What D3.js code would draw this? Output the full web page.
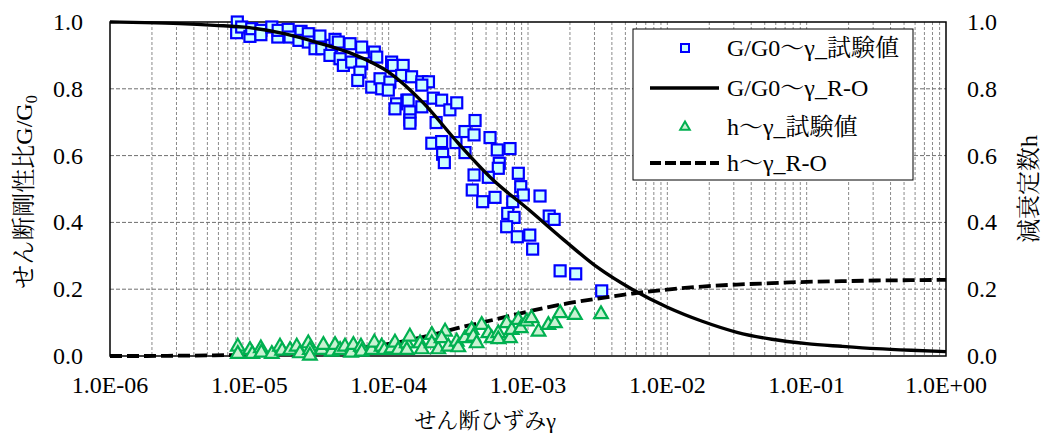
<!DOCTYPE html>
<html><head><meta charset="utf-8">
<script src="https://cdn.jsdelivr.net/npm/d3@7"></script>
<style>
html,body{margin:0;padding:0;background:#fff;}
svg{display:block;}
</style></head><body>
<svg id="c" width="1045" height="436"></svg>
<script>
// ---- data ----
const xTickValues = [1e-6,1e-5,1e-4,1e-3,1e-2,1e-1,1];
const xTickLabels = ["1.0E-06","1.0E-05","1.0E-04","1.0E-03","1.0E-02","1.0E-01","1.0E+00"];
const yTickValues = [0,0.2,0.4,0.6,0.8,1.0];
const yTickLabels = ["0.0","0.2","0.4","0.6","0.8","1.0"];
const seriesNames = ["G/G0～γ_試験値","G/G0～γ_R-O","h～γ_試験値","h～γ_R-O"];

// G/G0 test values
const gGamma = [8.20e-6,8.11e-6,8.81e-6,1.01e-5,1.04e-5,1.21e-5,1.21e-5,1.45e-5,1.60e-5,1.61e-5,1.90e-5,1.96e-5,2.35e-5,2.27e-5,2.65e-5,2.65e-5,2.96e-5,3.21e-5,3.31e-5,3.90e-5,3.79e-5,4.12e-5,4.35e-5,4.48e-5,4.73e-5,5.28e-5,5.43e-5,6.40e-5,6.40e-5,6.22e-5,6.00e-5,7.89e-5,8.21e-5,7.56e-5,8.67e-5,8.91e-5,1.02e-4,1.05e-4,1.08e-4,1.27e-4,1.24e-4,1.14e-4,1.11e-4,1.35e-4,1.42e-4,1.42e-4,9.94e-5,1.46e-4,1.73e-4,1.93e-4,1.73e-4,1.38e-4,1.42e-4,1.73e-4,2.09e-4,2.40e-4,2.75e-4,3.08e-4,2.19e-4,3.53e-4,4.17e-4,4.10e-4,5.34e-4,2.04e-4,2.40e-4,3.04e-4,2.44e-4,2.51e-4,3.53e-4,6.02e-4,7.43e-4,6.22e-4,6.12e-4,4.10e-4,5.19e-4,8.52e-4,8.87e-4,9.25e-4,1.22e-3,3.98e-4,4.73e-4,5.80e-4,7.77e-4,7.15e-4,7.94e-4,7.03e-4,8.38e-4,1.03e-3,1.08e-3,1.42e-3,1.54e-3,1.70e-3,2.20e-3,3.38e-3];
const gRatio = [1.000,0.968,0.985,0.957,0.980,0.975,0.962,0.985,0.955,0.975,0.978,0.955,0.972,0.945,0.965,0.940,0.920,0.958,0.920,0.930,0.900,0.948,0.940,0.890,0.870,0.935,0.880,0.925,0.875,0.850,0.825,0.910,0.895,0.805,0.830,0.800,0.820,0.880,0.870,0.870,0.840,0.755,0.740,0.766,0.731,0.707,0.796,0.836,0.821,0.821,0.811,0.766,0.697,0.746,0.772,0.766,0.737,0.758,0.699,0.672,0.705,0.662,0.654,0.637,0.642,0.639,0.604,0.579,0.609,0.617,0.621,0.577,0.562,0.542,0.535,0.547,0.507,0.482,0.479,0.497,0.462,0.475,0.462,0.427,0.415,0.387,0.357,0.362,0.320,0.419,0.409,0.255,0.246,0.195];

// G/G0 and h R-O model curves
const roGamma = [1e-6,1.78e-6,3.16e-6,5.62e-6,1e-5,1.78e-5,3.16e-5,5.62e-5,1e-4,1.78e-4,3.16e-4,5.62e-4,1e-3,1.78e-3,3.16e-3,5.62e-3,1e-2,1.78e-2,3.16e-2,5.62e-2,1e-1,1.78e-1,3.16e-1,5.62e-1,1];
const roG = [1.000,0.998,0.995,0.990,0.983,0.965,0.937,0.903,0.850,0.757,0.637,0.527,0.440,0.350,0.265,0.199,0.146,0.104,0.071,0.050,0.037,0.029,0.022,0.017,0.013];
const roH = [0.000,0.000,0.001,0.002,0.004,0.008,0.014,0.022,0.036,0.057,0.084,0.108,0.133,0.155,0.172,0.187,0.199,0.208,0.214,0.218,0.222,0.224,0.226,0.227,0.228];

// h test values
const hGamma = [8.26e-6,8.26e-6,1.01e-5,1.05e-5,1.21e-5,1.22e-5,1.45e-5,1.66e-5,1.72e-5,1.96e-5,2.19e-5,2.31e-5,2.65e-5,2.72e-5,2.72e-5,3.31e-5,3.40e-5,3.90e-5,4.12e-5,4.48e-5,4.86e-5,5.37e-5,5.58e-5,6.33e-5,6.40e-5,7.56e-5,7.89e-5,8.91e-5,9.31e-5,1.05e-4,1.11e-4,1.17e-4,1.35e-4,1.42e-4,1.35e-4,1.68e-4,1.73e-4,2.04e-4,2.04e-4,2.27e-4,2.54e-4,2.40e-4,2.68e-4,3.08e-4,3.16e-4,3.53e-4,3.94e-4,4.05e-4,4.28e-4,4.65e-4,5.19e-4,5.49e-4,6.12e-4,6.12e-4,7.03e-4,7.43e-4,7.64e-4,8.52e-4,8.87e-4,9.79e-4,1.06e-3,1.19e-3,1.40e-3,1.56e-3,1.70e-3,2.17e-3,3.34e-3];
const hVal = [0.028,0.006,0.018,0.006,0.023,0.010,0.006,0.028,0.016,0.018,0.028,0.008,0.038,0.018,0.001,0.018,0.033,0.013,0.033,0.018,0.028,0.010,0.033,0.028,0.013,0.018,0.040,0.028,0.018,0.023,0.040,0.018,0.038,0.058,0.018,0.038,0.020,0.063,0.038,0.020,0.073,0.053,0.028,0.043,0.026,0.053,0.078,0.058,0.038,0.093,0.068,0.053,0.068,0.050,0.098,0.053,0.078,0.108,0.083,0.103,0.113,0.073,0.093,0.098,0.128,0.123,0.125];

// ---- chart ----
const FONT = "'Liberation Serif', 'Noto Serif CJK JP', serif";
const svg = d3.select("#c");
const L=110, R=946, T=22, B=356;
const x = d3.scaleLog().domain([1e-6,1]).range([L,R]);
const y = d3.scaleLinear().domain([0,1]).range([B,T]);
const y2 = d3.scaleLinear().domain([0,1]).range([B,T]);

function txt(sel){ return sel.style("font-family", FONT).attr("fill","#000"); }

// grid
const minor = [];
for (let e=-6;e<0;e++) for (let m=1;m<=9;m++) minor.push(m*Math.pow(10,e));
const grid = svg.append("g");
grid.selectAll("line.v").data(minor.filter(v=>v>1e-6 && v<1)).enter().append("line")
  .attr("x1",d=>x(d)).attr("x2",d=>x(d)).attr("y1",T).attr("y2",B)
  .attr("stroke","#8a8a8a").attr("stroke-width",1).attr("stroke-dasharray","3,2");
grid.selectAll("line.h").data(yTickValues.filter(v=>v>0&&v<1)).enter().append("line")
  .attr("x1",L).attr("x2",R).attr("y1",d=>y(d)).attr("y2",d=>y(d))
  .attr("stroke","#6e6e6e").attr("stroke-width",1).attr("stroke-dasharray","4,2");

// border
svg.append("rect").attr("x",L).attr("y",T).attr("width",R-L).attr("height",B-T)
  .attr("fill","none").attr("stroke","#000").attr("stroke-width",1.5);

// G/G0 test squares
const gData = gGamma.map((g,i)=>({g, v:gRatio[i]}));
svg.append("g").selectAll("rect").data(gData).enter().append("rect")
  .attr("x",d=>x(d.g)-5.5).attr("y",d=>y(d.v)-5.5).attr("width",11).attr("height",11)
  .attr("fill","#ccffff").attr("stroke","#0000ff").attr("stroke-width",2.2);

// R-O curves
const roData = roGamma.map((g,i)=>({g, G:roG[i], h:roH[i]}));
svg.append("path").datum(roData)
  .attr("d", d3.line().x(d=>x(d.g)).y(d=>y(d.G)).curve(d3.curveMonotoneX))
  .attr("fill","none").attr("stroke","#000").attr("stroke-width",3.4);
svg.append("path").datum(roData)
  .attr("d", d3.line().x(d=>x(d.g)).y(d=>y2(d.h)).curve(d3.curveMonotoneX))
  .attr("fill","none").attr("stroke","#000").attr("stroke-width",3.8).attr("stroke-dasharray","12,5");

// h test triangles
const tri = d3.symbol().type(d3.symbolTriangle).size(80);
const hData = hGamma.map((g,i)=>({g, v:hVal[i]}));
svg.append("g").selectAll("path").data(hData).enter().append("path")
  .attr("d",tri).attr("transform",d=>`translate(${x(d.g)},${y2(d.v)})`)
  .attr("fill","#c9f2d2").attr("stroke","#00b050").attr("stroke-width",2.2);

// axes labels
const fs = 24;
txt(svg.append("g").selectAll("text").data(xTickValues).enter().append("text")
  .attr("x",d=>x(d)).attr("y",393).attr("text-anchor","middle").attr("font-size",fs)
  .text((d,i)=>xTickLabels[i]));
txt(svg.append("g").selectAll("text").data(yTickValues).enter().append("text")
  .attr("x",83).attr("y",d=>y(d)+8).attr("text-anchor","end").attr("font-size",fs)
  .text((d,i)=>yTickLabels[i]));
txt(svg.append("g").selectAll("text").data(yTickValues).enter().append("text")
  .attr("x",967).attr("y",d=>y2(d)+8).attr("text-anchor","start").attr("font-size",fs)
  .text((d,i)=>yTickLabels[i]));

// titles
txt(svg.append("text").attr("x",485).attr("y",428).attr("text-anchor","middle").attr("font-size",22)
  .text("せん断ひずみγ"));
const lt = txt(svg.append("text").attr("transform","translate(32,192) rotate(-90)")
  .attr("text-anchor","middle").attr("font-size",24));
lt.append("tspan").text("せん断剛性比G/G");
lt.append("tspan").attr("font-size",16).attr("dy",5).text("0");
txt(svg.append("text").attr("transform","translate(1037,189) rotate(-90)")
  .attr("text-anchor","middle").attr("font-size",24).text("減衰定数h"));

// legend
const lg = svg.append("g");
lg.append("rect").attr("x",633).attr("y",29).attr("width",280).attr("height",151)
  .attr("fill","#fff").attr("stroke","#000").attr("stroke-width",1);
const rows = [48,88,127,163];
lg.append("rect").attr("x",681).attr("y",rows[0]-4).attr("width",8).attr("height",8)
  .attr("fill","#ccffff").attr("stroke","#0000ff").attr("stroke-width",2);
lg.append("line").attr("x1",650).attr("x2",719).attr("y1",rows[1]).attr("y2",rows[1])
  .attr("stroke","#000").attr("stroke-width",3.4);
lg.append("path").attr("d",d3.symbol().type(d3.symbolTriangle).size(40))
  .attr("transform",`translate(685,${rows[2]})`)
  .attr("fill","#c9f2d2").attr("stroke","#00b050").attr("stroke-width",2);
lg.append("line").attr("x1",650).attr("x2",719).attr("y1",rows[3]).attr("y2",rows[3])
  .attr("stroke","#000").attr("stroke-width",3.8).attr("stroke-dasharray","11,4");
txt(lg.selectAll("text.l").data(seriesNames).enter().append("text")
  .attr("x",727).attr("y",(d,i)=>rows[i]+8).attr("font-size",fs).text(d=>d));
</script>
</body></html>
